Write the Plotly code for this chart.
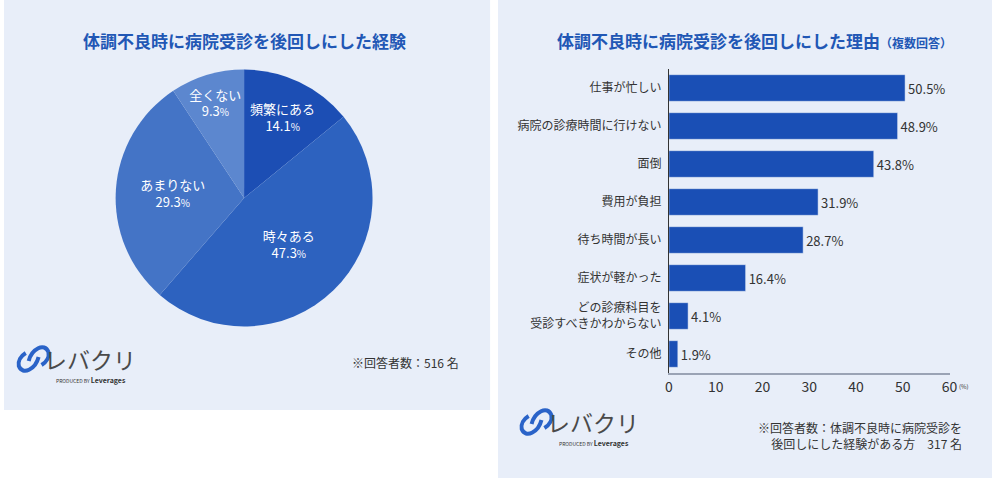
import plotly.graph_objects as go

# --- data ---
pie_labels = ["頻繁にある", "時々ある", "あまりない", "全くない"]
pie_values = [14.1, 47.3, 29.3, 9.3]
pie_colors = ["#1c4eb4", "#2d62bf", "#4474c6", "#5c87cf"]

reasons = ["仕事が忙しい", "病院の診療時間に行けない", "面倒", "費用が負担",
           "待ち時間が長い", "症状が軽かった", "どの診療科目を<br>受診すべきかわからない", "その他"]
reason_values = [50.5, 48.9, 43.8, 31.9, 28.7, 16.4, 4.1, 1.9]
x_ticks = [0, 10, 20, 30, 40, 50, 60]

FONT = "Noto Sans CJK JP"
BG = "#e8eef9"
TITLE_COLOR = "#2157b5"
TEXT = "#333333"
W, H = 1000, 478


def P(x, y):
  # pixel -> paper coords
  return f"{x / W:.4f},{1 - y / H:.4f}"


fig = go.Figure()

fig.add_trace(go.Pie(
  labels=pie_labels, values=pie_values, sort=False, direction="clockwise", rotation=0,
  marker=dict(colors=pie_colors, line=dict(width=0)),
  texttemplate="%{label}<br>%{value}<span style='font-size:10px'>%</span>",
  textposition="inside", insidetextorientation="horizontal",
  textfont=dict(family=FONT, size=13, color="white"),
  domain=dict(x=[113 / W, 373 / W], y=[1 - 328 / H, 1 - 68 / H]),
  showlegend=False, hoverinfo="label+value",
))

fig.add_trace(go.Bar(
  x=reason_values, y=reasons, orientation="h", width=0.7,
  marker=dict(color="#1a4fb5"),
  text=[f"{v}%" for v in reason_values], textposition="outside", cliponaxis=False,
  textfont=dict(family=FONT, size=12, color=TEXT),
  xaxis="x", yaxis="y", showlegend=False,
))

shapes = [
  dict(type="rect", xref="paper", yref="paper", x0=0, x1=492 / W, y0=1 - 410 / H, y1=1,
       fillcolor=BG, line=dict(width=0), layer="below"),
  dict(type="rect", xref="paper", yref="paper", x0=500 / W, x1=1, y0=0, y1=1,
       fillcolor=BG, line=dict(width=0), layer="below"),
]

annotations = [
  dict(text="<b>体調不良時に病院受診を後回しにした経験</b>", x=243 / W, y=1 - 40 / H,
       font=dict(family=FONT, size=17, color=TITLE_COLOR)),
  dict(text="<b>体調不良時に病院受診を後回しにした理由</b><span style='font-size:12px'><b>（複数回答）</b></span>",
       x=760 / W, y=1 - 40 / H, font=dict(family=FONT, size=17, color=TITLE_COLOR)),
  dict(text="※回答者数：516 名", x=463 / W, y=1 - 362 / H, xanchor="right",
       font=dict(family=FONT, size=12, color=TEXT)),
  dict(text="※回答者数：体調不良時に病院受診を<br>後回しにした経験がある方　317 名", x=972 / W, y=1 - 435 / H,
       xanchor="right", align="right", font=dict(family=FONT, size=12, color=TEXT)),
  dict(text="(%)", x=60, xref="x", y=1 - 373 / H, yanchor="top", xanchor="left", xshift=7, yshift=-7,
       font=dict(family=FONT, size=6, color=TEXT)),
]

# logos (left and right panel)
for dx, dy in [(0, 0), (509, 63)]:
  for d in [
    f"M{P(25 + dx, 361 + dy)} C{P(28 + dx, 349 + dy)} {P(41 + dx, 342 + dy)} {P(45 + dx, 352 + dy)} "
    f"C{P(46 + dx, 357 + dy)} {P(43 + dx, 362 + dy)} {P(38 + dx, 365 + dy)}",
    f"M{P(35 + dx, 357 + dy)} C{P(32 + dx, 369 + dy)} {P(19 + dx, 376 + dy)} {P(15 + dx, 366 + dy)} "
    f"C{P(14 + dx, 361 + dy)} {P(17 + dx, 356 + dy)} {P(22 + dx, 353 + dy)}",
  ]:
    shapes.append(dict(type="path", xref="paper", yref="paper", path=d,
                       line=dict(color="#2a63c8", width=4)))
  annotations.append(dict(text="レバクリ", x=(87 + dx) / W, y=1 - (359 + dy) / H,
                          font=dict(family=FONT, size=23, color="#4a4a4a")))
  annotations.append(dict(text="<span style='font-size:5px'>PRODUCED BY </span><b>Leverages</b>",
                          x=(88 + dx) / W, y=1 - (380 + dy) / H,
                          font=dict(family=FONT, size=7, color="#333333")))

for a in annotations:
  a.setdefault("xref", "paper")
  a.setdefault("yref", "paper")
  a.setdefault("xanchor", "center")
  a.setdefault("yanchor", "middle")
  a.setdefault("showarrow", False)

fig.update_layout(
  width=W, height=H, margin=dict(l=0, r=0, t=0, b=0),
  paper_bgcolor="white", plot_bgcolor="rgba(0,0,0,0)",
  font=dict(family=FONT, color=TEXT),
  uniformtext=dict(minsize=13, mode="show"),
  xaxis=dict(domain=[673 / W, 957 / W], range=[0, 60], tickvals=x_ticks,
             showgrid=False, zeroline=False, showline=True, linecolor="#9aa3b5", linewidth=2,
             tickfont=dict(family=FONT, size=14, color=TEXT), ticks=""),
  yaxis=dict(domain=[1 - 373 / H, 1 - 69 / H], range=[7.5, -0.5], autorange=False,
             showgrid=False, zeroline=False, showline=True, linecolor="#333333", linewidth=1,
             tickfont=dict(family=FONT, size=12, color=TEXT), ticks="", ticklabelstandoff=4),
  shapes=shapes, annotations=annotations,
)

# drop the default page margin / scrollbars so the 1000x478 figure fills the window
fig.write_html(
  "out.html",
  config={"displayModeBar": False},
  post_script="document.body.style.margin='0px';document.body.style.overflow='hidden';"
              "document.documentElement.style.overflow='hidden';",
)
